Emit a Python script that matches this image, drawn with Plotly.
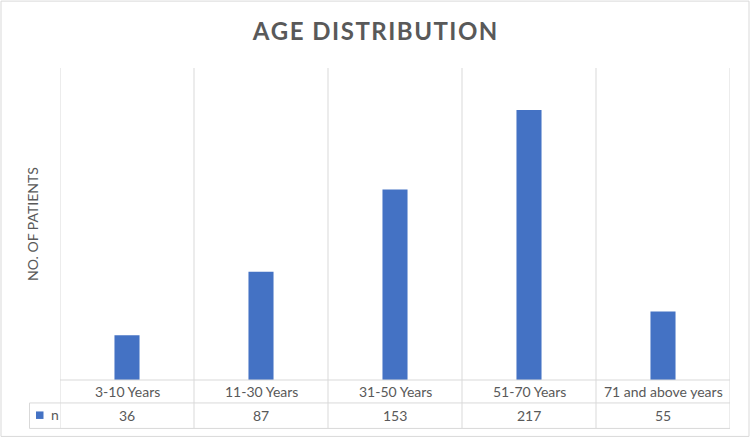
import plotly.graph_objects as go

categories = ["3-10 Years", "11-30 Years", "31-50 Years", "51-70 Years", "71 and above years"]
values = [36, 87, 153, 217, 55]
series_name = "n"
title_text = "AGE DISTRIBUTION"
y_title = "NO. OF PATIENTS"

W, H = 750, 438
L, R, T, B = 60, 20, 68, 57.5
PW, PH = W - L - R, H - T - B
BASE = H - B

def px(x):
    return (x - L) / PW

def py(y):
    return (BASE - y) / PH

BAR = "#4472C4"
GRID = "#D9D9D9"
TXT = "#595959"
FONT = "Lato"

fig = go.Figure(go.Bar(x=categories, y=values, marker_color=BAR, name=series_name,
                       marker_line_width=0))

shapes = []
n = len(categories)
for i in range(n + 1):
    shapes.append(dict(type="line", xref="x", yref="paper", x0=i - 0.5, x1=i - 0.5,
                       y0=py(429), y1=1, line=dict(color=GRID, width=1)))
shapes.append(dict(type="line", xref="paper", yref="paper", x0=0, x1=1, y0=0, y1=0,
                   line=dict(color=GRID, width=1)))
for yy in (403.5, 429):
    shapes.append(dict(type="line", xref="paper", yref="paper", x0=px(29.5), x1=1,
                       y0=py(yy), y1=py(yy), line=dict(color=GRID, width=1)))
shapes.append(dict(type="line", xref="paper", yref="paper", x0=px(29.5), x1=px(29.5),
                   y0=py(403.5), y1=py(429), line=dict(color=GRID, width=1)))
shapes.append(dict(type="rect", xref="paper", yref="paper", x0=px(36), x1=px(43.5),
                   y0=py(412), y1=py(419.5), fillcolor=BAR, line=dict(width=0)))
shapes.append(dict(type="rect", xref="paper", yref="paper", x0=px(1), x1=px(749),
                   y0=py(437), y1=py(1), line=dict(color=GRID, width=1)))

annotations = []
for i, (c, v) in enumerate(zip(categories, values)):
    annotations.append(dict(x=i, xref="x", y=py(392), yref="paper", text=c, showarrow=False,
                            font=dict(family=FONT, size=14, color=TXT), xanchor="center", yanchor="middle"))
    annotations.append(dict(x=i, xref="x", y=py(416), yref="paper", text=str(v), showarrow=False,
                            font=dict(family=FONT, size=14, color=TXT), xanchor="center", yanchor="middle"))
annotations.append(dict(x=px(49), xref="paper", y=py(415), yref="paper", text=series_name, showarrow=False,
                        font=dict(family=FONT, size=14, color=TXT), xanchor="left", yanchor="middle"))
annotations.append(dict(x=px(32), xref="paper", y=0.5, yref="paper", text=y_title, showarrow=False,
                        textangle=-90, font=dict(family=FONT, size=14, color=TXT),
                        xanchor="center", yanchor="middle"))

spaced_title = "\u200a".join(title_text)

fig.update_layout(
    width=W, height=H,
    margin=dict(l=L, r=R, t=T, b=B),
    paper_bgcolor="white", plot_bgcolor="white",
    title=dict(text="<b>" + spaced_title + "</b>", x=0.5, xanchor="center",
               y=1 - 32 / H, yanchor="middle",
               font=dict(family=FONT, size=24, color=TXT)),
    showlegend=False,
    bargap=0.813,
    hovermode=False,
    shapes=shapes,
    annotations=annotations,
    xaxis=dict(showticklabels=False, showgrid=False, zeroline=False, showline=False,
               range=[-0.5, n - 0.5], fixedrange=True),
    yaxis=dict(showticklabels=False, showgrid=False, zeroline=False, showline=False,
               range=[0, 250.7], fixedrange=True),
)

fig.write_html("out.html", config={"displayModeBar": False},
               post_script="document.body.style.margin='0';document.body.style.overflow='hidden';")
